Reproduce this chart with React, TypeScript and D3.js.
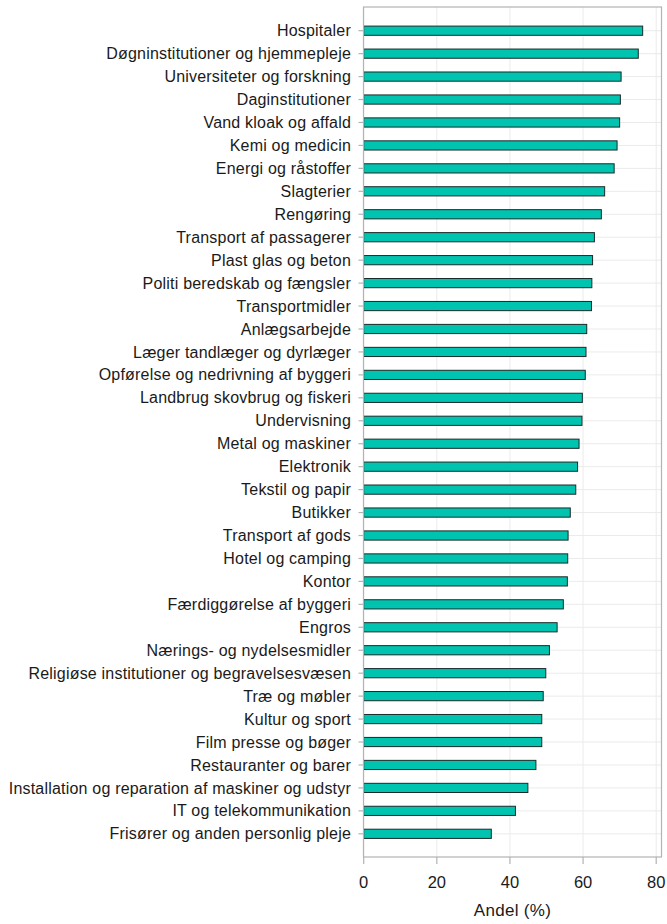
import React from "react";
import * as d3 from "d3";

const categories: string[] = [
  "Hospitaler",
  "Døgninstitutioner og hjemmepleje",
  "Universiteter og forskning",
  "Daginstitutioner",
  "Vand kloak og affald",
  "Kemi og medicin",
  "Energi og råstoffer",
  "Slagterier",
  "Rengøring",
  "Transport af passagerer",
  "Plast glas og beton",
  "Politi beredskab og fængsler",
  "Transportmidler",
  "Anlægsarbejde",
  "Læger tandlæger og dyrlæger",
  "Opførelse og nedrivning af byggeri",
  "Landbrug skovbrug og fiskeri",
  "Undervisning",
  "Metal og maskiner",
  "Elektronik",
  "Tekstil og papir",
  "Butikker",
  "Transport af gods",
  "Hotel og camping",
  "Kontor",
  "Færdiggørelse af byggeri",
  "Engros",
  "Nærings- og nydelsesmidler",
  "Religiøse institutioner og begravelsesvæsen",
  "Træ og møbler",
  "Kultur og sport",
  "Film presse og bøger",
  "Restauranter og barer",
  "Installation og reparation af maskiner og udstyr",
  "IT og telekommunikation",
  "Frisører og anden personlig pleje",
];

const values: number[] = [
  76.3, 75.1, 70.4, 70.2, 70.0, 69.3, 68.5, 65.9, 65.0, 63.1, 62.6, 62.4,
  62.3, 61.0, 60.8, 60.6, 59.8, 59.7, 58.9, 58.5, 58.0, 56.5, 55.9, 55.8,
  55.7, 54.6, 52.9, 50.8, 49.8, 49.1, 48.7, 48.7, 47.1, 44.9, 41.5, 34.9,
];

const xTicks: number[] = [0, 20, 40, 60, 80];
const xTitle = "Andel (%)";

const W = 667;
const H = 924;
const panel = { left: 363.5, right: 661.5, top: 7, bottom: 857 };
const FONT = "'Liberation Sans', Arial, sans-serif";

export default function App() {
  const x = d3
    .scaleLinear()
    .domain([0, 81.45])
    .range([panel.left + 0.2, panel.right]);
  const y = d3
    .scalePoint<string>()
    .domain(categories)
    .range([30.7, 833.8]);
  const barH = 9.2;

  return (
    <svg
      width={W}
      height={H}
      style={{ position: "absolute", left: 0, top: 0, background: "#fff" }}
    >
      {/* grid */}
      {categories.map((c) => (
        <line
          key={"hg" + c}
          x1={panel.left}
          x2={panel.right}
          y1={y(c)}
          y2={y(c)}
          stroke="#ebebeb"
          strokeWidth={1}
        />
      ))}
      {xTicks.map((t) => (
        <line
          key={"vg" + t}
          x1={x(t)}
          x2={x(t)}
          y1={panel.top}
          y2={panel.bottom}
          stroke="#ebebeb"
          strokeWidth={1}
        />
      ))}
      {/* bars */}
      {categories.map((c, i) => (
        <rect
          key={"b" + c}
          x={x(0)}
          y={(y(c) as number) - barH / 2}
          width={x(values[i]) - x(0)}
          height={barH}
          fill="#00c4b0"
          stroke="#1a2a28"
          strokeWidth={1}
        />
      ))}
      {/* panel border */}
      <rect
        x={panel.left}
        y={panel.top}
        width={panel.right - panel.left}
        height={panel.bottom - panel.top}
        fill="none"
        stroke="#b3b3b3"
        strokeWidth={1.2}
      />
      {/* y ticks and labels */}
      {categories.map((c) => (
        <g key={"yt" + c} transform={`translate(0,${y(c)})`}>
          <line x1={panel.left - 5} x2={panel.left} stroke="#b3b3b3" strokeWidth={1.2} />
          <text
            x={panel.left - 12.5}
            dy="0.35em"
            textAnchor="end"
            fontFamily={FONT}
            fontSize={16}
            letterSpacing={0.2}
            fill="#1a1a1a"
          >
            {c}
          </text>
        </g>
      ))}
      {/* x ticks and labels */}
      {xTicks.map((t) => (
        <g key={"xt" + t} transform={`translate(${x(t)},0)`}>
          <line y1={panel.bottom} y2={panel.bottom + 7} stroke="#b3b3b3" strokeWidth={1.2} />
          <text
            y={panel.bottom + 25}
            dy="0.35em"
            textAnchor="middle"
            fontFamily={FONT}
            fontSize={16.5}
            fill="#1a1a1a"
          >
            {t}
          </text>
        </g>
      ))}
      <text
        x={(panel.left + panel.right) / 2}
        y={910}
        dy="0.35em"
        textAnchor="middle"
        fontFamily={FONT}
        fontSize={17}
        letterSpacing={0.3}
        fill="#1a1a1a"
      >
        {xTitle}
      </text>
    </svg>
  );
}
